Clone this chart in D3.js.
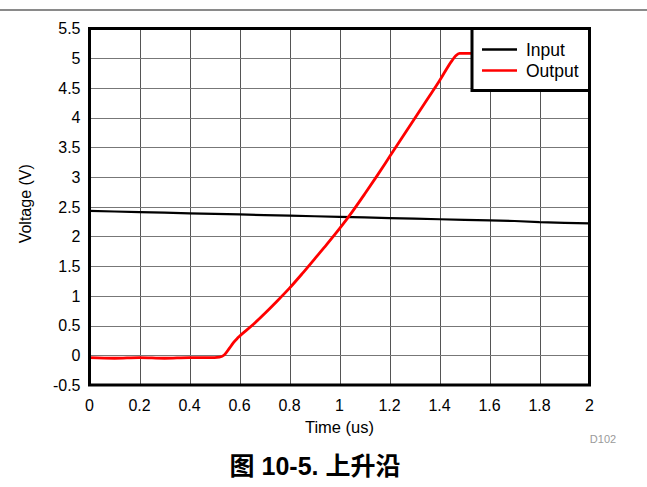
<!DOCTYPE html>
<html><head><meta charset="utf-8">
<script src="https://cdn.jsdelivr.net/npm/d3@7/dist/d3.min.js"></script>
<style>
html,body{margin:0;padding:0;background:#fff;}
svg{display:block;font-family:"Liberation Sans",Arial,"Noto Sans CJK SC",sans-serif;}
</style></head>
<body>
<svg id="chart" width="647" height="487"></svg>
<script>
// ---- data ----
const inputTime = [0,0.1,0.2,0.3,0.4,0.5,0.6,0.7,0.8,0.9,1.0,1.1,1.2,1.3,1.4,1.5,1.6,1.7,1.8,1.9,2.0];
const inputVolt = [2.43,2.42,2.41,2.40,2.39,2.38,2.37,2.36,2.35,2.34,2.33,2.32,2.31,2.30,2.29,2.28,2.27,2.26,2.24,2.23,2.22];
const outputTime = [0,0.1,0.2,0.3,0.4,0.48,0.52,0.54,0.56,0.575,0.59,0.6,0.65,0.7,0.75,0.8,0.85,0.9,0.95,1.0,1.05,1.1,1.15,1.2,1.25,1.3,1.35,1.4,1.45,1.465,1.48,1.5,1.6];
const outputVolt = [-0.04,-0.05,-0.04,-0.05,-0.04,-0.04,-0.03,0.01,0.12,0.21,0.28,0.32,0.50,0.70,0.91,1.13,1.37,1.62,1.87,2.13,2.41,2.71,3.02,3.34,3.66,3.98,4.30,4.62,4.96,5.04,5.08,5.08,5.08];
const xTicks = [0,0.2,0.4,0.6,0.8,1,1.2,1.4,1.6,1.8,2];
const xTickLabels = ["0","0.2","0.4","0.6","0.8","1","1.2","1.4","1.6","1.8","2"];
const yTicks = [-0.5,0,0.5,1,1.5,2,2.5,3,3.5,4,4.5,5,5.5];
const yTickLabels = ["-0.5","0","0.5","1","1.5","2","2.5","3","3.5","4","4.5","5","5.5"];
const seriesNames = ["Input","Output"];
const seriesColors = ["#000000","#ff0000"];
const xTitle = "Time (us)";
const yTitle = "Voltage (V)";
const caption = "图 10-5. 上升沿";
const docId = "D102";

// ---- layout ----
const svg = d3.select("#chart");
const L = 89.5, R = 589.5, T = 28.5, B = 385;
const x = d3.scaleLinear().domain([0,2]).range([L,R]);
const y = d3.scaleLinear().domain([-0.5,5.5]).range([B,T]);

// top rule
svg.append("line").attr("x1",0).attr("x2",647).attr("y1",10).attr("y2",10)
  .attr("stroke","#8a8a8a").attr("stroke-width",2);

// grid
const grid = svg.append("g");
grid.selectAll(".vg").data(xTicks).enter().append("line")
  .attr("x1",d=>Math.round(x(d))+0.5).attr("x2",d=>Math.round(x(d))+0.5)
  .attr("y1",T).attr("y2",B).attr("stroke","#555").attr("stroke-width",1);
grid.selectAll(".hg").data(yTicks).enter().append("line")
  .attr("y1",d=>Math.round(y(d))+0.5).attr("y2",d=>Math.round(y(d))+0.5)
  .attr("x1",L).attr("x2",R).attr("stroke","#777").attr("stroke-width",1);

// lines
const lineIn = d3.line().x(d=>x(d[0])).y(d=>y(d[1]));
const lineOut = d3.line().x(d=>x(d[0])).y(d=>y(d[1])).curve(d3.curveMonotoneX);
svg.append("path").datum(inputTime.map((t,i)=>[t,inputVolt[i]]))
  .attr("d",lineIn).attr("fill","none").attr("stroke",seriesColors[0]).attr("stroke-width",2.2);
svg.append("path").datum(outputTime.map((t,i)=>[t,outputVolt[i]]))
  .attr("d",lineOut).attr("fill","none").attr("stroke",seriesColors[1]).attr("stroke-width",2.8)
  .attr("stroke-linejoin","round");

// frame
svg.append("rect").attr("x",L).attr("y",T).attr("width",R-L).attr("height",B-T)
  .attr("fill","none").attr("stroke","#000").attr("stroke-width",3);

// tick labels
svg.append("g").selectAll("text").data(yTicks).enter().append("text")
  .attr("x",80.5).attr("y",d=>y(d)+5.8).attr("text-anchor","end")
  .attr("font-size",16).attr("fill","#000").text((d,i)=>yTickLabels[i]);
svg.append("g").selectAll("text").data(xTicks).enter().append("text")
  .attr("x",d=>x(d)).attr("y",411).attr("text-anchor","middle")
  .attr("font-size",16).attr("fill","#000").text((d,i)=>xTickLabels[i]);

// axis titles
svg.append("text").attr("x",(L+R)/2).attr("y",433).attr("text-anchor","middle")
  .attr("font-size",16.5).text(xTitle);
svg.append("text").attr("transform","translate(31,"+((T+B)/2-3)+") rotate(-90)")
  .attr("text-anchor","middle").attr("font-size",16).text(yTitle);

// legend
const lg = svg.append("g");
lg.append("rect").attr("x",472).attr("y",T).attr("width",R-472).attr("height",62)
  .attr("fill","#fff").attr("stroke","#000").attr("stroke-width",3);
seriesNames.forEach((n,i)=>{
  const yy = 49.5 + i*21;
  lg.append("line").attr("x1",482).attr("x2",517).attr("y1",yy).attr("y2",yy)
    .attr("stroke",seriesColors[i]).attr("stroke-width",2.5);
  lg.append("text").attr("x",526).attr("y",yy+6).attr("font-size",17.5).text(n);
});

// doc id
svg.append("text").attr("x",603).attr("y",443).attr("text-anchor","middle")
  .attr("font-size",11).attr("fill","#9a9a9a").text(docId);

// caption
svg.append("text").attr("x",315).attr("y",475).attr("text-anchor","middle")
  .attr("font-size",25).attr("font-weight","bold")
  .attr("font-family","'Liberation Sans','Noto Sans CJK SC',sans-serif").text(caption);
</script>
</body></html>
